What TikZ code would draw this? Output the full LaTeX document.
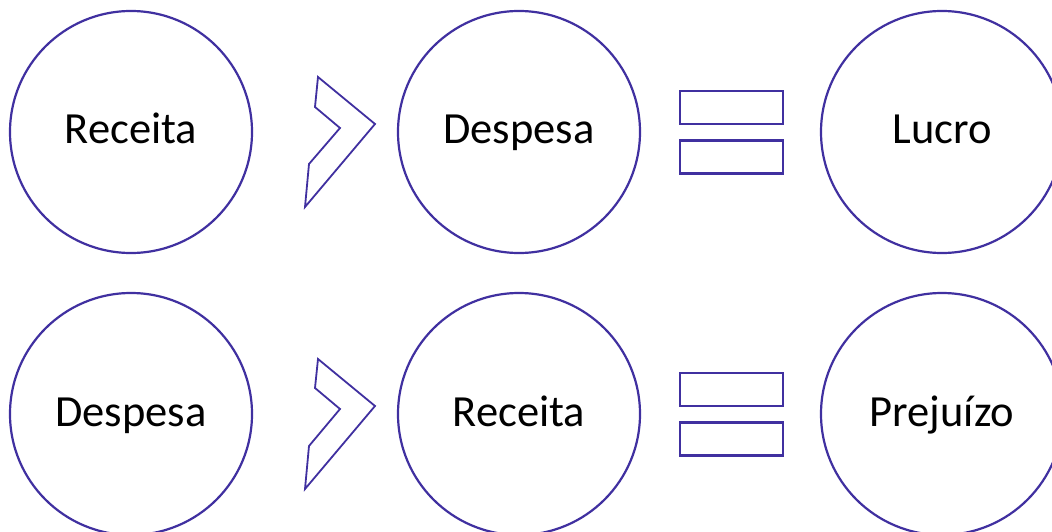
\documentclass[tikz,border=0pt]{standalone}
\usepackage{fontspec}
\setmainfont{Carlito}
\definecolor{ink}{RGB}{64,48,160}
\begin{document}
\begin{tikzpicture}[x=1pt,y=-1pt,
  bubble/.style={circle,draw=ink,line width=2.2pt,minimum size=242pt,inner sep=0pt,
    font=\fontsize{44.5}{44.5}\selectfont,text height=28.7pt,text depth=4.7pt},
  bar/.style={rectangle,draw=ink,line width=2.2pt,minimum width=103pt,minimum height=33pt,inner sep=0pt},
  gt/.style={draw=ink,line width=1.8pt,line join=miter}]
\useasboundingbox (0,0) rectangle (1052,532);
\clip (0,0) rectangle (1052,532);
% top row
\node[bubble] (a1) at (131,132) {Receita};
\node[bubble] (b1) at (519,132) {Despesa};
\node[bubble] (c1) at (942,132) {Lucro};
\draw[gt] (318,77) -- (375,124) -- (305,207) -- (309,164) -- (340,128) -- (315,107) -- cycle;
\node[bar] (e1a) at (731.5,107.5) {};
\node[bar] (e1b) at (731.5,157) {};
% bottom row
\node[bubble] (a2) at (131,414) {Despesa};
\node[bubble] (b2) at (519,414) {Receita};
\node[bubble] (c2) at (942,414) {Prejuízo};
\draw[gt] (318,359) -- (375,406) -- (305,489) -- (309,446) -- (340,409) -- (315,388) -- cycle;
\node[bar] (e2a) at (731.5,389.5) {};
\node[bar] (e2b) at (731.5,439) {};
\end{tikzpicture}
\end{document}
